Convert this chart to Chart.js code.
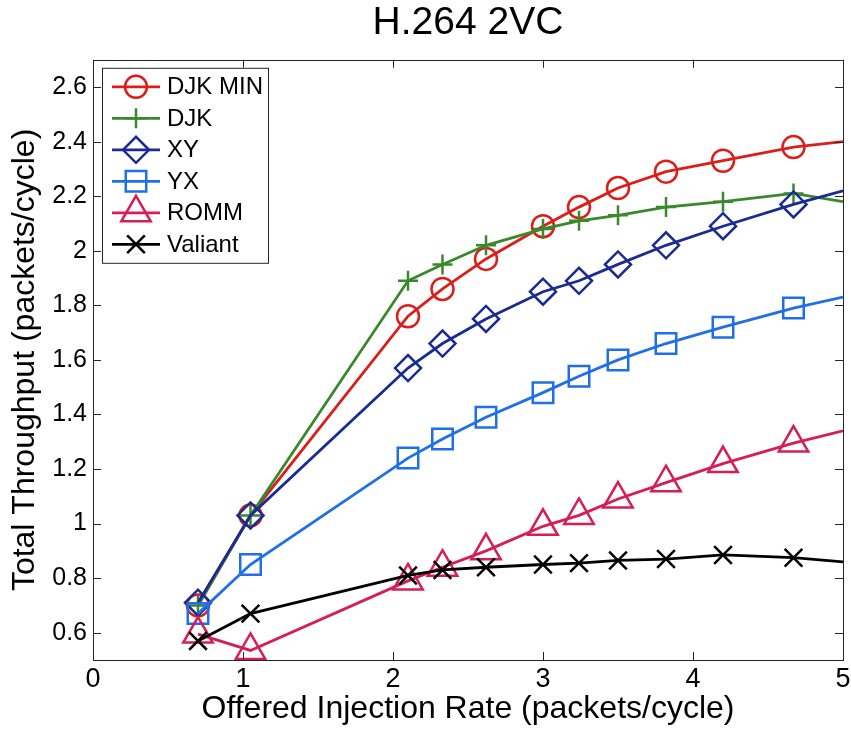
<!DOCTYPE html>
<html>
<head>
<meta charset="utf-8">
<script src="https://cdn.jsdelivr.net/npm/chart.js@4/dist/chart.umd.min.js"></script>
<style>
  html, body { margin: 0; padding: 0; background: #fff; }
  #wrap { width: 851px; height: 729px; }
</style>
</head>
<body>
<div id="wrap"><canvas id="thruChart" width="851" height="729"></canvas></div>
<script>
// offered injection rate (packets/cycle), same for every series
const injRate = [0.70, 1.05, 2.10, 2.33, 2.62, 3.00, 3.24, 3.50, 3.82, 4.20, 4.67, 5.00];

// total throughput (packets/cycle)
const djkMin  = [0.70, 1.03, 1.76, 1.86, 1.97, 2.09, 2.16, 2.23, 2.29, 2.33, 2.38, 2.40];
const djk     = [0.70, 1.03, 1.89, 1.95, 2.02, 2.08, 2.11, 2.13, 2.16, 2.18, 2.21, 2.18];
const xy      = [0.71, 1.03, 1.57, 1.66, 1.75, 1.85, 1.89, 1.95, 2.02, 2.09, 2.17, 2.22];
const yx      = [0.67, 0.85, 1.24, 1.31, 1.39, 1.48, 1.54, 1.60, 1.66, 1.72, 1.79, 1.83];
const romm    = [0.595, 0.535, 0.79, 0.84, 0.90, 0.99, 1.03, 1.09, 1.15, 1.22, 1.295, 1.34];
const valiant = [0.57, 0.67, 0.81, 0.83, 0.84, 0.85, 0.855, 0.865, 0.87, 0.885, 0.875, 0.86];

const xTicks = [0, 1, 2, 3, 4, 5];
const yTicks = [0.6, 0.8, 1.0, 1.2, 1.4, 1.6, 1.8, 2.0, 2.2, 2.4, 2.6];

Chart.defaults.font.family = "'Liberation Sans', Arial, sans-serif";
Chart.defaults.color = "#000";

function series(label, ys, color, style, radius, order) {
  return {
    label: label,
    data: ys.map((v, i) => ({ x: injRate[i], y: v })),
    showLine: true,
    borderColor: color,
    borderWidth: 2.8,
    pointStyle: style,
    pointRadius: (c) => (c.dataIndex === ys.length - 1 ? 0 : radius),
    legendRadius: radius,
    pointBorderColor: color,
    pointBackgroundColor: "rgba(0,0,0,0)",
    pointBorderWidth: 2.5,
    order: order,
  };
}

const datasets = [
  series("DJK MIN", djkMin, "#dc1e1a", "circle", 11, 6),
  series("DJK", djk, "#3a882c", "cross", 10, 5),
  series("XY", xy, "#1a2b92", "rectRot", 13, 4),
  series("YX", yx, "#1e6fe8", "rect", 14.5, 3),
  series("ROMM", romm, "#d61d55", "triangle", 17, 2),
  series("Valiant", valiant, "#000000", "crossRot", 12.5, 1),
];

// matlab style box with inward ticks on all four sides
const frameTicks = {
  id: "frameTicks",
  afterDatasetsDraw(chart) {
    const { ctx, chartArea: a, scales } = chart;
    const tl = 8;
    ctx.save();
    ctx.strokeStyle = "#262626";
    ctx.lineWidth = 1;
    ctx.strokeRect(Math.round(a.left) + 0.5, Math.round(a.top) + 0.5, Math.round(a.width), Math.round(a.height));
    ctx.beginPath();
    scales.x.ticks.forEach((t) => {
      const px = Math.round(scales.x.getPixelForValue(t.value)) + 0.5;
      ctx.moveTo(px, a.bottom); ctx.lineTo(px, a.bottom - tl);
      ctx.moveTo(px, a.top); ctx.lineTo(px, a.top + tl);
    });
    scales.y.ticks.forEach((t) => {
      const py = Math.round(scales.y.getPixelForValue(t.value)) + 0.5;
      ctx.moveTo(a.left, py); ctx.lineTo(a.left + tl, py);
      ctx.moveTo(a.right, py); ctx.lineTo(a.right - tl, py);
    });
    ctx.stroke();
    ctx.restore();
  },
};

// legend box in the top-left corner of the plot
const boxLegend = {
  id: "boxLegend",
  afterDraw(chart) {
    const { ctx, chartArea: a } = chart;
    const bx = a.left + 9, by = a.top + 8, bw = 166, bh = 195;
    ctx.save();
    ctx.fillStyle = "#fff";
    ctx.fillRect(bx, by, bw, bh);
    ctx.strokeStyle = "#262626";
    ctx.lineWidth = 1;
    ctx.strokeRect(bx + 0.5, by + 0.5, bw, bh);
    ctx.font = "24px 'Liberation Sans', Arial, sans-serif";
    ctx.textBaseline = "middle";
    chart.data.datasets.forEach((ds, i) => {
      const cy = by + 19 + i * 31.5;
      ctx.strokeStyle = ds.borderColor;
      ctx.lineWidth = ds.borderWidth;
      ctx.beginPath();
      ctx.moveTo(bx + 10, cy);
      ctx.lineTo(bx + 58, cy);
      ctx.stroke();
      ctx.fillStyle = "rgba(0,0,0,0)";
      ctx.lineWidth = ds.pointBorderWidth;
      Chart.helpers.drawPoint(ctx, {
        pointStyle: ds.pointStyle,
        radius: ds.legendRadius,
        rotation: 0,
        borderWidth: ds.pointBorderWidth,
      }, bx + 34, cy);
      ctx.fillStyle = "#000";
      ctx.fillText(ds.label, bx + 65, cy + 1);
    });
    ctx.restore();
  },
};

const ctx = document.getElementById("thruChart").getContext("2d");
const thruChart = new Chart(ctx, {
  type: "scatter",
  data: { datasets: datasets },
  plugins: [frameTicks, boxLegend],
  options: {
    responsive: false,
    animation: false,
    devicePixelRatio: 1,
    layout: { autoPadding: false, padding: { left: 0, right: 0, top: 0, bottom: 0 } },
    plugins: {
      legend: { display: false },
      tooltip: { enabled: false },
      title: {
        display: true,
        fullSize: false,
        text: "H.264 2VC",
        color: "#000",
        font: { size: 39, weight: "normal" },
        padding: { top: 0, bottom: 13 },
      },
    },
    scales: {
      x: {
        type: "linear",
        min: 0,
        max: 5,
        afterBuildTicks: (s) => { s.ticks = xTicks.map((v) => ({ value: v })); },
        afterFit: (s) => {
          s.height = 69;
          s.paddingLeft = 0;
          s.paddingRight = 8;
        },
        grid: { display: false, drawTicks: false },
        border: { display: false },
        ticks: {
          color: "#000",
          font: { size: 27 },
          padding: 3,
          maxRotation: 0,
          callback: (v) => String(v),
        },
        title: {
          display: true,
          text: "Offered Injection Rate (packets/cycle)",
          color: "#000",
          font: { size: 32 },
          padding: { top: 0, bottom: 1 },
        },
      },
      y: {
        type: "linear",
        min: 0.5,
        max: 2.7,
        afterBuildTicks: (s) => { s.ticks = yTicks.map((v) => ({ value: v })); },
        afterFit: (s) => {
          s.width = 93;
          s.paddingTop = 0;
          s.paddingBottom = 0;
        },
        grid: { display: false, drawTicks: false },
        border: { display: false },
        ticks: {
          color: "#000",
          font: { size: 25 },
          padding: 6,
          callback: (v) => String(+v.toFixed(1)),
        },
        title: {
          display: true,
          text: "Total Throughput (packets/cycle)",
          color: "#000",
          font: { size: 32 },
          padding: { top: 6, bottom: 0 },
        },
      },
    },
  },
});
</script>
</body>
</html>
